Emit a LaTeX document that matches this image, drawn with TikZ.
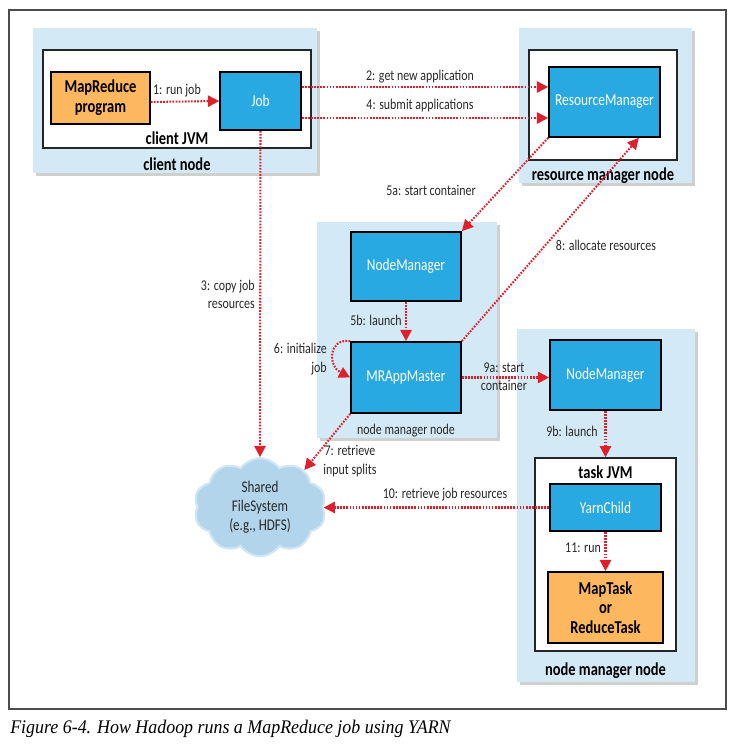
\documentclass[tikz,border=0pt]{standalone}
\usepackage{fontspec}
\setmainfont[FakeStretch=0.8]{Carlito}
\newfontfamily\captionfont[FakeStretch=0.93]{Liberation Serif}
\usetikzlibrary{arrows.meta, positioning, shapes.symbols, shadows}

\definecolor{panelblue}{HTML}{D3EAF6}
\definecolor{procblue}{HTML}{29A9E1}
\definecolor{taskorange}{HTML}{FDB75E}
\definecolor{cloudblue}{HTML}{B2D5EB}
\definecolor{flowred}{HTML}{E01F2D}
\definecolor{labelgray}{HTML}{282828}

\begin{document}
\begin{tikzpicture}[
    panel/.style={rectangle, fill=panelblue, drop shadow={shadow xshift=2pt, shadow yshift=-2pt, fill=gray!75}},
    jvmbox/.style={rectangle, draw=black!85, line width=1pt, fill=white},
    procbox/.style={rectangle, draw=black, line width=1.2pt, fill=procblue, align=center, text=white, font=\fontsize{11.9}{13}\selectfont},
    taskbox/.style={rectangle, draw=black, line width=1.2pt, fill=taskorange, align=center, font=\fontsize{12.9}{14}\selectfont\bfseries},
    title/.style={font=\fontsize{12.9}{14}\selectfont\bfseries, inner sep=0pt},
    flowlabel/.style={font=\fontsize{10.6}{13}\selectfont, text=labelgray, inner sep=0pt, align=center},
    flow/.style={-{Triangle[length=8pt, width=8pt]}, flowred, line width=1.45pt, dash pattern=on 1.2pt off 1pt}
]
\useasboundingbox (0,0) rectangle (18.4,-18.65);

% ==== Outer frame ====
\node[rectangle, draw=black!70, line width=0.8pt, minimum width=17.925cm, minimum height=17.475cm] (frame) at (9.1875,-8.9875) {};

% ==== Client node ====
\node[panel, minimum width=7.1cm, minimum height=3.625cm] (clientnode) at (4.375,-2.5125) {};
\node[jvmbox, minimum width=6.7cm, minimum height=2.45cm] (clientjvm) at (4.425,-2.475) {};
\node[taskbox, minimum width=2.475cm, minimum height=1.3cm] (mrprogram) at (2.5125,-2.45) {MapReduce\\program};
\node[procbox, minimum width=2.025cm, minimum height=1.45cm] (job) at (6.5125,-2.525) {Job};
\node[title, above=0.1cm of clientjvm.south] (clientjvmtitle) {client JVM};
\node[title, below=0.22cm of clientjvm.south] (clientnodetitle) {client node};

% ==== Resource manager node ====
\node[panel, minimum width=4.325cm, minimum height=3.875cm] (rmnode) at (15.1375,-2.6375) {};
\node[jvmbox, minimum width=3.7cm, minimum height=2.75cm] (rmjvm) at (15.075,-2.625) {};
\node[procbox, minimum width=2.775cm, minimum height=1.75cm] (rm) at (15.1125,-2.55) {ResourceManager};
\node[title, below=0.17cm of rmjvm.south] (rmtitle) {resource manager node};

% ==== Node manager node (application master) ====
\node[panel, minimum width=4.5cm, minimum height=5.4cm] (amnode) at (10.175,-8.25) {};
\node[procbox, minimum width=2.75cm, minimum height=1.725cm] (nmleft) at (10.15,-6.6625) {NodeManager};
\node[procbox, minimum width=2.75cm, minimum height=1.775cm] (master) at (10.15,-9.4375) {MRAppMaster};
\node[flowlabel, below=0.25cm of master.south] (amtitle) {node manager node};

% ==== Node manager node (task) ====
\node[panel, minimum width=4.45cm, minimum height=8.825cm] (tasknode) at (15.15,-12.6375) {};
\node[procbox, minimum width=2.775cm, minimum height=1.75cm] (nmright) at (15.1375,-9.375) {NodeManager};
\node[jvmbox, minimum width=3.525cm, minimum height=4.825cm] (taskjvm) at (15.1375,-13.8625) {};
\node[procbox, minimum width=2.775cm, minimum height=1.175cm] (yarnchild) at (15.1375,-12.6875) {YarnChild};
\node[taskbox, minimum width=2.875cm, minimum height=1.775cm] (maptask) at (15.1375,-15.1875) {MapTask\\or\\ReduceTask};
\node[title, below=0.2cm of taskjvm.north] (taskjvmtitle) {task JVM};
\node[title, below=0.27cm of taskjvm.south] (tasktitle) {node manager node};

% ==== Shared filesystem ====
\node[cloud, cloud puffs=10, cloud puff arc=110, aspect=1.45, fill=cloudblue, draw=cloudblue!60, line width=1.5pt, inner sep=0pt, minimum width=3.3cm, minimum height=2.45cm, align=center, text=labelgray, font=\fontsize{11.6}{13.5}\selectfont] (shared) at (6.5,-12.68) {Shared\\FileSystem\\(e.g., HDFS)};

% ==== Arrows ====
\draw[flow] ([yshift=-0.1cm]mrprogram.east) -- (job.west);
\draw[flow] ([yshift=0.35cm]job.east) -- ([yshift=0.35cm]job.east -| rm.west);
\draw[flow] ([yshift=-0.425cm]job.east) -- ([yshift=-0.425cm]job.east -| rm.west);
\draw[flow] (job.south) -- (shared.north);
\draw[flow] (rm.south west) -- (nmleft.north east);
\draw[flow] (master.north east) -- ([xshift=-0.55cm]rm.south east);
\draw[flow] (nmleft.south) -- (master.north);
\draw[flow] (master.north west) .. controls (8.2,-8.45) and (8.2,-9.15) .. (master.west);
\draw[flow] (master.south west) -- (shared.40);
\draw[flow] (master.east) -- (master.east -| nmright.west);
\draw[flow] (nmright.south) -- (taskjvm.north);
\draw[flow] (yarnchild.west) -- (yarnchild.west -| shared.east);
\draw[flow] (yarnchild.south) -- (maptask.north);

% ==== Arrow labels ====
\node[flowlabel] (runlabel) at (4.425,-2.275) {1: run job};
\node[flowlabel] (newapplabel) at (10.5,-1.925) {2: get new application};
\node[flowlabel] (submitlabel) at (10.5,-2.65) {4: submit applications};
\node[flowlabel, align=right, anchor=east] (copylabel) at (6.375,-7.36) {3: copy job\\resources};
\node[flowlabel] (startlabel) at (10.775,-4.75) {5a: start container};
\node[flowlabel] (launchlabel) at (9.4,-8) {5b: launch};
\node[flowlabel, align=right, anchor=east] (initlabel) at (8.175,-8.98) {6: initialize\\job};
\node[flowlabel] (splitslabel) at (8.75,-11.525) {7: retrieve\\input splits};
\node[flowlabel] (allocatelabel) at (15.15,-6.125) {8: allocate resources};
\node[flowlabel] (containerlabel) at (12.6,-9.425) {9a: start\\container};
\node[flowlabel] (launchtwolabel) at (14.3,-10.775) {9b: launch};
\node[flowlabel] (resourceslabel) at (11.125,-12.375) {10: retrieve job resources};
\node[flowlabel] (tasklabel) at (14.575,-13.7) {11: run};

% ==== Caption ====
\node[anchor=west, inner sep=0pt, font=\captionfont\itshape\fontsize{13.7}{16}\selectfont] (caption) at (0.25,-18.225) {Figure 6-4. How Hadoop runs a MapReduce job using YARN};

\end{tikzpicture}
\end{document}
